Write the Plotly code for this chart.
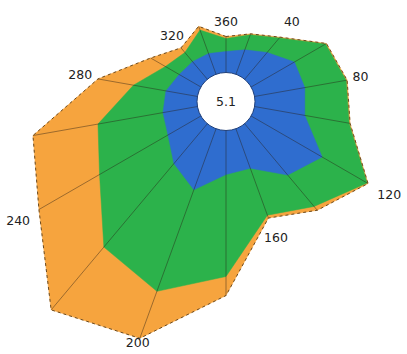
import math
import plotly.graph_objects as go

# ---- data ----
angles = [0, 20, 40, 60, 80, 100, 120, 140, 160, 180, 200, 220, 240, 260, 280, 300, 320, 340]
outer = [65, 72, 84, 116, 123, 126, 164, 142, 124, 194, 252, 272, 216, 196, 130, 87, 70, 80]
middle = [63, 71, 83, 115, 122, 125, 163, 137, 121, 175, 202, 190, 146, 130, 94, 70, 64, 76]
inner = [50, 55, 64, 79, 80, 80, 111, 96, 71, 73, 94, 81, 67, 64, 61, 54, 52, 51]
label_angles = [0, 40, 80, 120, 160, 200, 240, 280, 320]
label_text = ["360", "40", "80", "120", "160", "200", "240", "280", "320"]
center_value = "5.1"

# ---- layout / style ----
W, H = 407, 354
CX, CY = 226, 101.5
HOLE_R = 29
ORANGE = "#F6A43E"
GREEN = "#2CB24B"
BLUE = "#2F6DCF"
FONT = "DejaVu Sans"
label_pad = [13.5, 18.5, 13.5, 24.5, 22, 6, 24, 18, 14]


def to_xy(rs, ths):
    xs, ys = [], []
    for r, t in zip(rs, ths):
        if r is None:
            xs.append(None)
            ys.append(None)
        else:
            a = math.radians(t)
            xs.append(r * math.sin(a))
            ys.append(r * math.cos(a))
    return xs, ys


def closed(v):
    return list(v) + [v[0]]


th = closed(angles)
fig = go.Figure()

for vals, color in [(outer, ORANGE), (middle, GREEN), (inner, BLUE)]:
    x, y = to_xy(closed(vals), th)
    fig.add_trace(go.Scatter(
        x=x, y=y, mode="lines", fill="toself",
        fillcolor=color, line=dict(color=color, width=0.5),
        hoverinfo="skip", showlegend=False))

# spokes
sr, st = [], []
for a, o in zip(angles, outer):
    sr += [HOLE_R, o, None]
    st += [a, a, a]
x, y = to_xy(sr, st)
fig.add_trace(go.Scatter(
    x=x, y=y, mode="lines", connectgaps=False,
    line=dict(color="rgba(40,30,20,0.55)", width=0.8),
    hoverinfo="skip", showlegend=False))

# outer outline
x, y = to_xy(closed(outer), th)
fig.add_trace(go.Scatter(
    x=x, y=y, mode="lines",
    line=dict(color="#6b4a20", width=1, dash="dot"),
    hoverinfo="skip", showlegend=False))

# angle labels placed just outside the outer polygon
lab_r = [outer[angles.index(a)] + p for a, p in zip(label_angles, label_pad)]
x, y = to_xy(lab_r, label_angles)
fig.add_trace(go.Scatter(
    x=x, y=y, mode="text", text=label_text,
    textfont=dict(family=FONT, size=12.5, color="#222222"),
    cliponaxis=False, hoverinfo="skip", showlegend=False))

# hole
fig.add_shape(type="circle", xref="x", yref="y",
              x0=-HOLE_R, x1=HOLE_R, y0=-HOLE_R, y1=HOLE_R,
              fillcolor="white", line=dict(color="#1f3f7a", width=1),
              layer="above")

fig.update_layout(
    width=W, height=H,
    margin=dict(l=0, r=0, t=0, b=0),
    paper_bgcolor="white", plot_bgcolor="white",
    xaxis=dict(range=[-CX, W - CX], visible=False, fixedrange=True),
    yaxis=dict(range=[-(H - CY), CY], visible=False, fixedrange=True),
    annotations=[dict(
        x=0, y=0, xref="x", yref="y",
        text=center_value, showarrow=False,
        font=dict(family=FONT, size=12.5, color="#222222"))],
)

fig.write_html("out.html")
